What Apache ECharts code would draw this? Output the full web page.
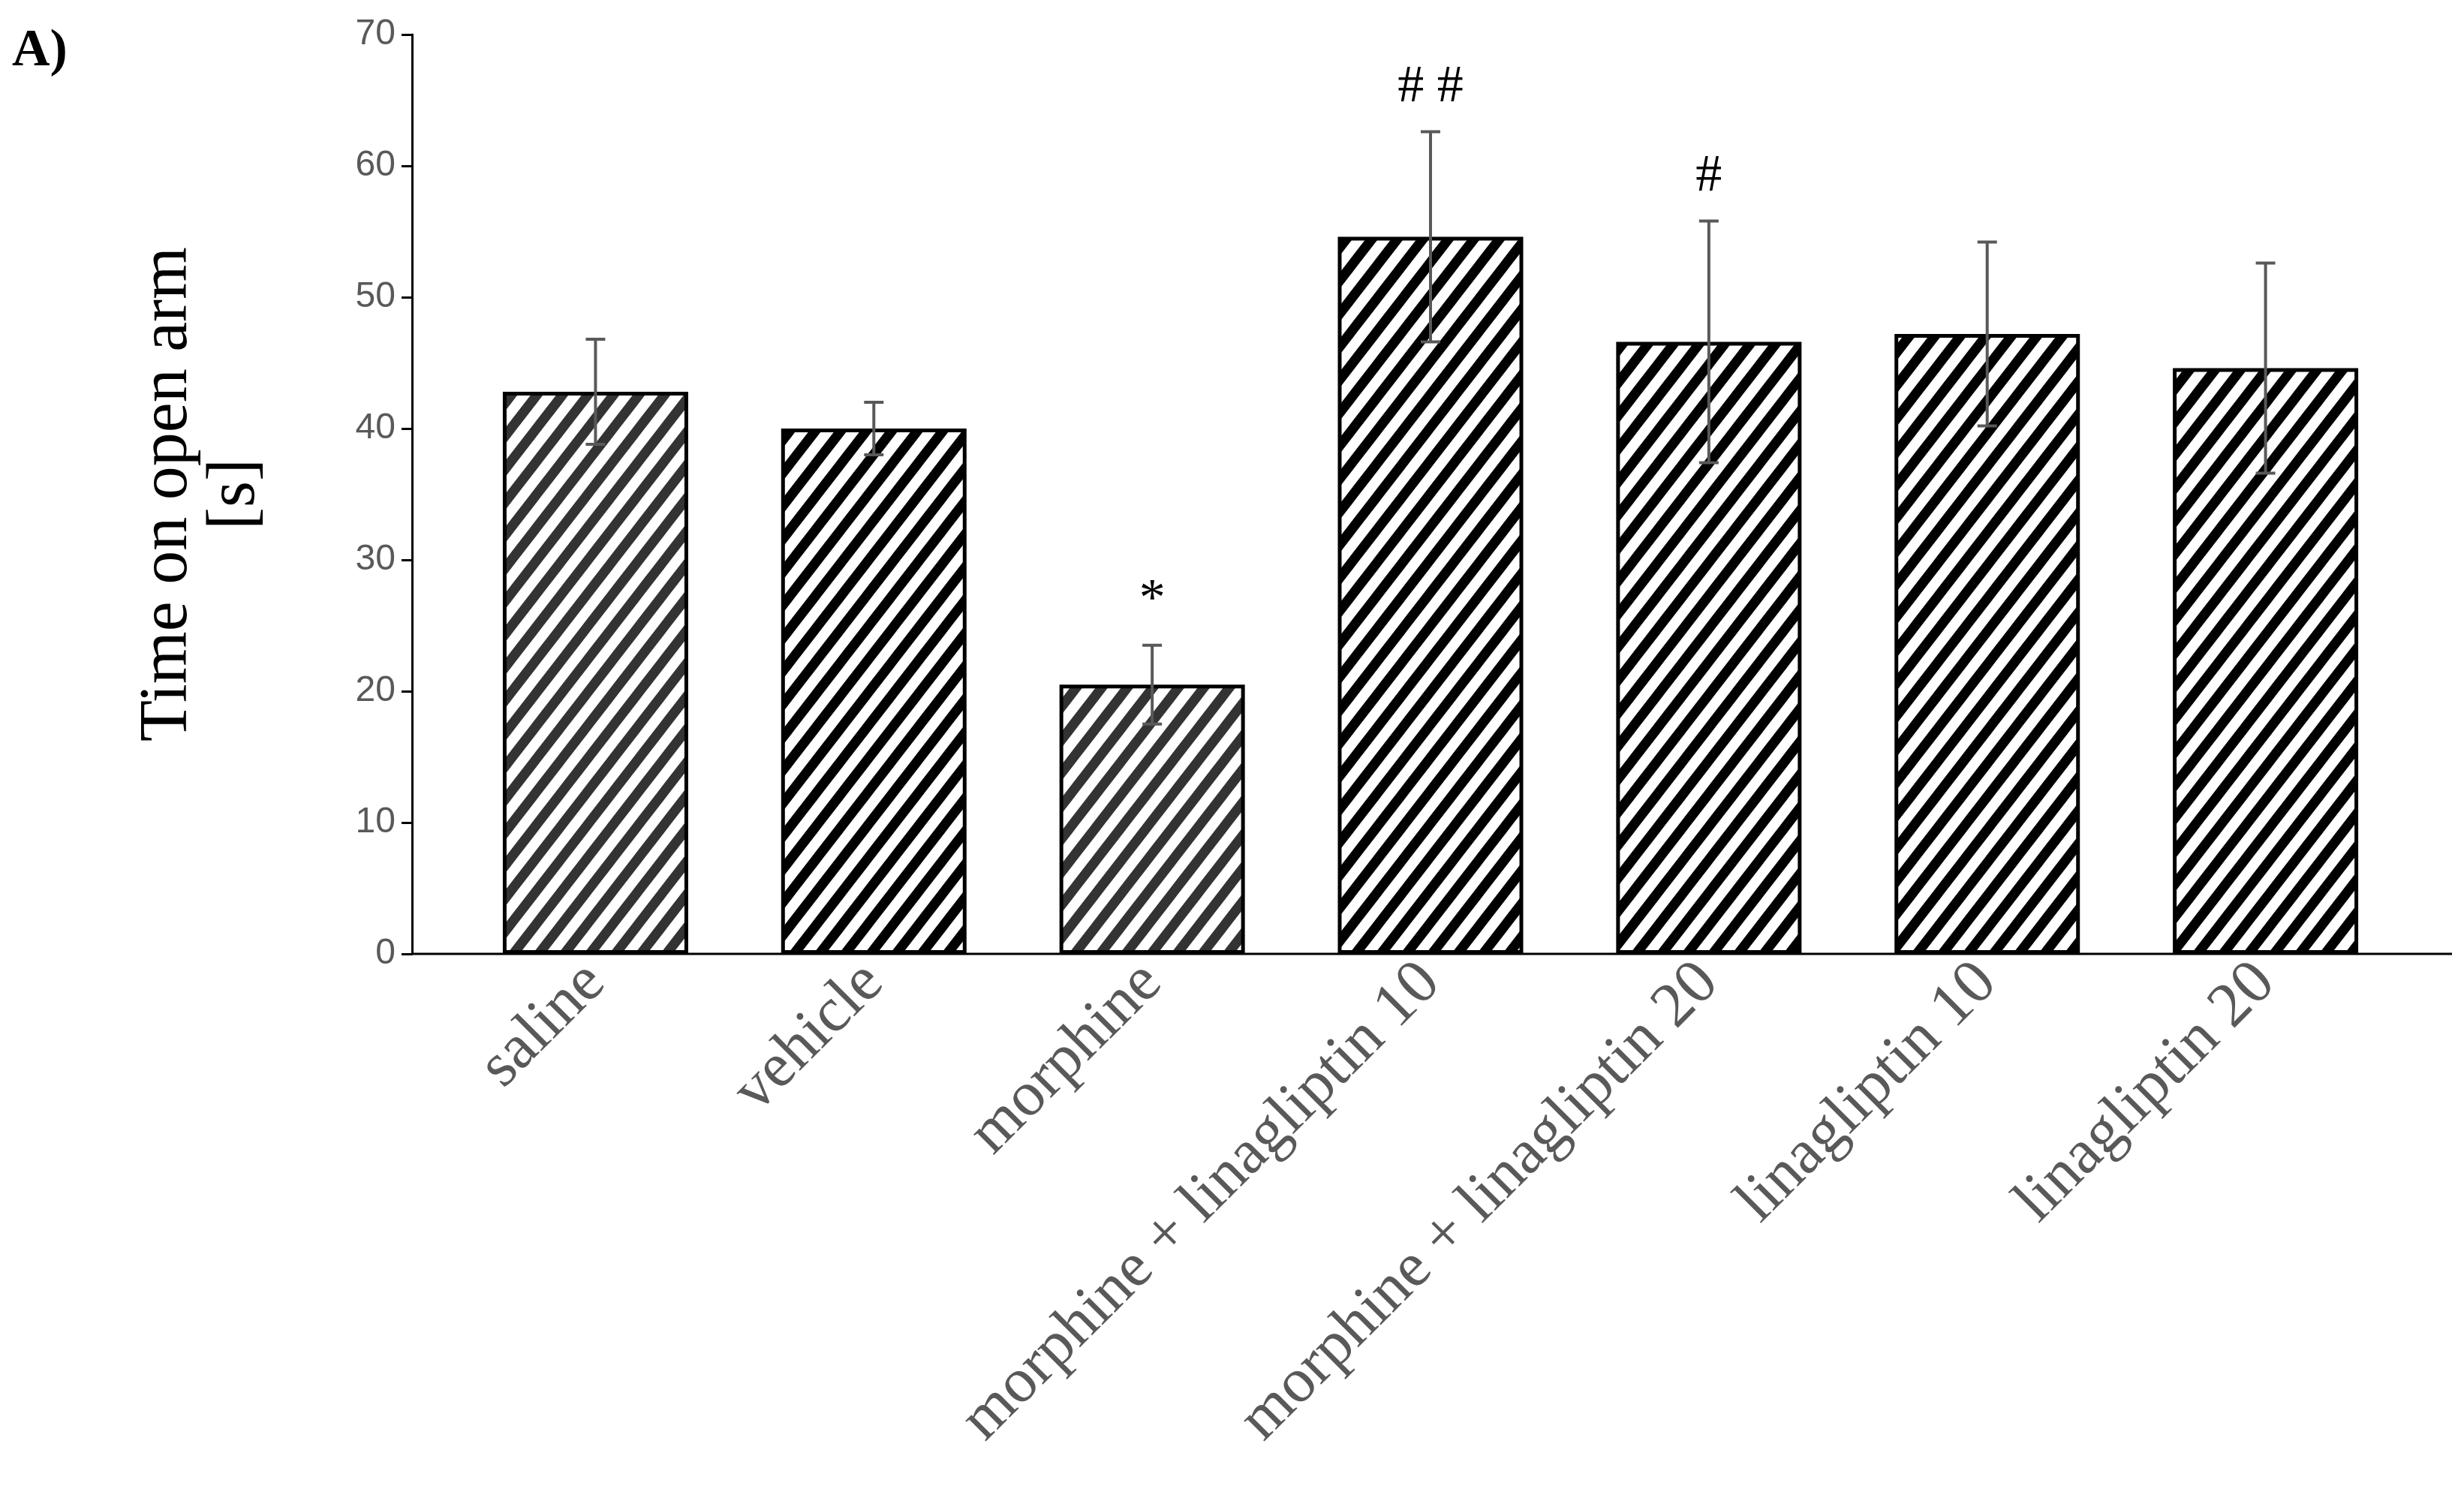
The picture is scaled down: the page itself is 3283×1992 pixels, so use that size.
<!DOCTYPE html>
<html>
<head>
<meta charset="utf-8">
<script src="https://cdn.jsdelivr.net/npm/echarts@6/dist/echarts.min.js"></script>
<style>html,body{margin:0;padding:0;background:#fff}#chart{width:3283px;height:1992px}</style>
</head>
<body>
<div id="chart"></div>
<script>
var categories = ['saline', 'vehicle', 'morphine', 'morphine + linagliptin 10', 'morphine + linagliptin 20', 'linagliptin 10', 'linagliptin 20'];
var means = [42.8, 40.0, 20.5, 54.6, 46.6, 47.2, 44.6];
var errors = [4.0, 2.0, 3.0, 8.0, 9.2, 7.0, 8.0];
var marks = ['', '', '*', '# #', '#', '', ''];
var stripeColors = ['#333333', '#000000', '#333333', '#000000', '#000000', '#000000', '#000000'];
var yTicks = [0, 10, 20, 30, 40, 50, 60, 70];

function makeStripes(color) {
  var w = 34, h = 44;
  var c = document.createElement('canvas');
  c.width = w; c.height = h;
  var ctx = c.getContext('2d');
  ctx.fillStyle = '#fff';
  ctx.fillRect(0, 0, w, h);
  ctx.strokeStyle = color;
  ctx.lineWidth = 13;
  [-w, 0, w].forEach(function (dx) {
    ctx.beginPath();
    ctx.moveTo(dx - w, 2 * h);
    ctx.lineTo(dx + 2 * w, -h);
    ctx.stroke();
  });
  return c;
}

var chart = echarts.init(document.getElementById('chart'));
var serif = '"Liberation Serif", "Times New Roman", serif';

var barData = means.map(function (v, i) {
  return {
    value: v,
    itemStyle: { color: { image: makeStripes(stripeColors[i]), repeat: 'repeat' } }
  };
});

chart.setOption({
  animation: false,
  graphic: [{
    type: 'text', left: 16, top: 34,
    style: { text: 'A)', font: 'bold 70px ' + serif, fill: '#000' }
  }, {
    type: 'line', z: 10,
    shape: { x1: 549, y1: 1271, x2: 3267, y2: 1271 },
    style: { stroke: '#000', lineWidth: 3 }
  }],
  grid: { left: 608, right: 79, top: 46, bottom: 721 },
  xAxis: {
    type: 'category',
    data: categories,
    axisLine: { show: false },
    axisTick: { show: false },
    axisLabel: {
      rotate: 45, interval: 0, margin: 26,
      fontFamily: serif, fontSize: 84, color: '#595959'
    }
  },
  yAxis: {
    type: 'value', min: 0, max: 70, interval: 10, offset: 59,
    name: 'Time on open arm\n[s]',
    nameLocation: 'middle', nameGap: 190, nameRotate: 90,
    nameTextStyle: { fontFamily: serif, fontSize: 90, color: '#000', lineHeight: 90 },
    axisLine: { show: true, lineStyle: { color: '#000', width: 3 } },
    axisTick: { show: true, length: 14, lineStyle: { color: '#000', width: 3 } },
    splitLine: { show: false },
    axisLabel: {
      fontFamily: '"Liberation Sans", Arial, sans-serif', fontSize: 48, color: '#595959', margin: 22,
      formatter: function (v) { return yTicks.indexOf(v) >= 0 ? String(v) : ''; }
    }
  },
  series: [{
    type: 'bar',
    data: barData,
    barWidth: 247,
    itemStyle: { borderColor: '#000', borderWidth: 5 }
  }, {
    type: 'custom',
    z: 5,
    data: means.map(function (v, i) { return [i, v, errors[i]]; }),
    renderItem: function (params, api) {
      var x = api.value(0), m = api.value(1), e = api.value(2);
      var top = api.coord([x, m + e]);
      var bot = api.coord([x, m - e]);
      var cap = 26;
      var st = { stroke: '#595959', lineWidth: 4 };
      return {
        type: 'group',
        children: [
          { type: 'line', shape: { x1: top[0], y1: top[1], x2: bot[0], y2: bot[1] }, style: st },
          { type: 'line', shape: { x1: top[0] - cap / 2, y1: top[1], x2: top[0] + cap / 2, y2: top[1] }, style: st },
          { type: 'line', shape: { x1: bot[0] - cap / 2, y1: bot[1], x2: bot[0] + cap / 2, y2: bot[1] }, style: st },
          { type: 'text', x: top[0], y: top[1] - 24,
            style: { text: marks[params.dataIndex], font: '70px ' + serif, fill: '#000', align: 'center', verticalAlign: 'bottom' } }
        ]
      };
    }
  }]
});
</script>
</body>
</html>
